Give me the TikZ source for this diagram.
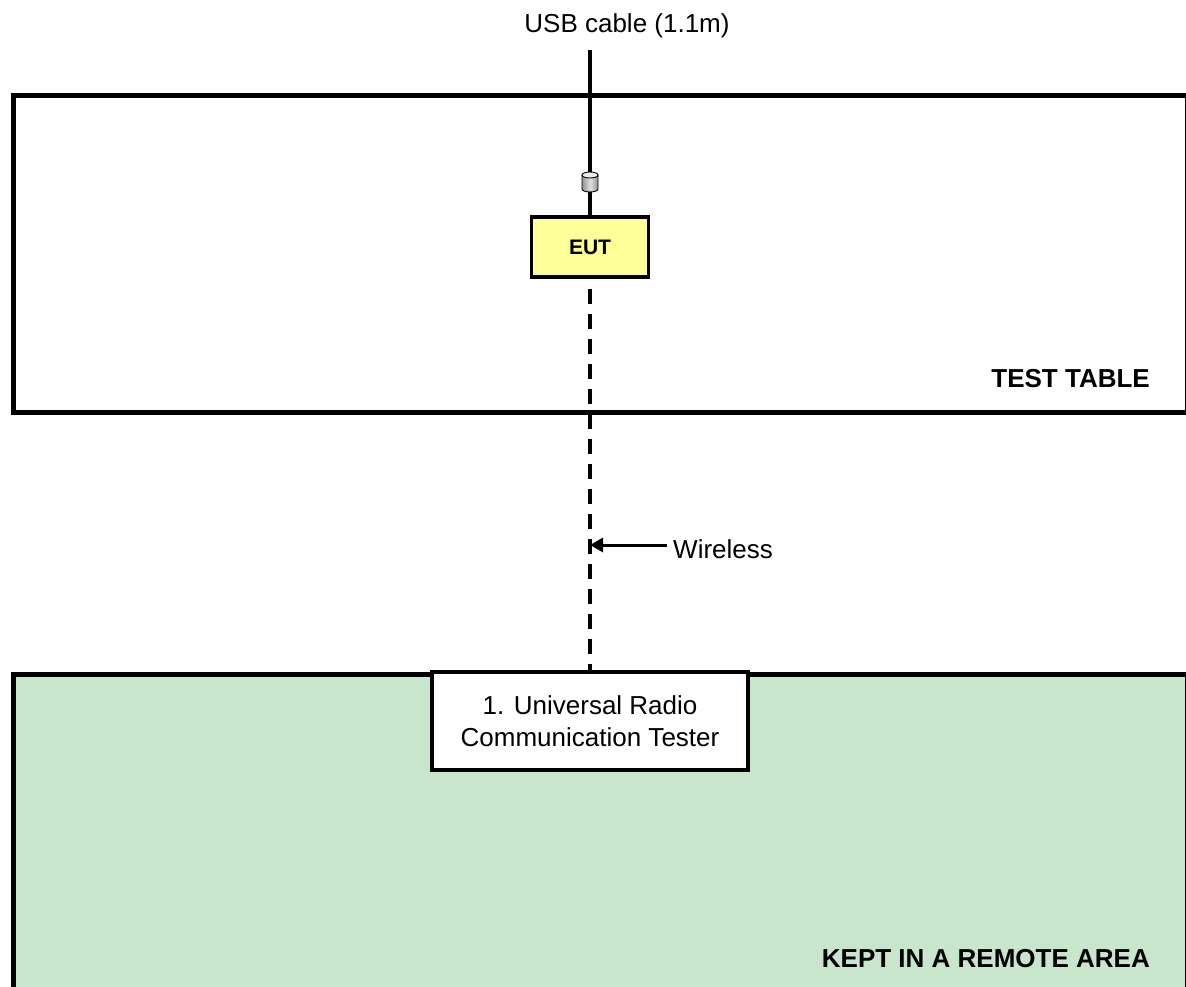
\documentclass[tikz,border=0pt]{standalone}
\usepackage{fontspec}
\setmainfont{Liberation Sans}
\usetikzlibrary{arrows.meta}
\definecolor{remotegreen}{RGB}{200,230,204}
\definecolor{eutyellow}{RGB}{255,255,153}
\tikzset{
  areabox/.style={draw=black, line width=5pt, anchor=north west, inner sep=0pt, minimum width=1174pt},
  devbox/.style={draw=black, line width=3.5pt, inner sep=0pt},
  regtext/.style={font=\fontsize{26}{32}\selectfont, inner sep=0pt},
  boldtext/.style={font=\fontsize{26}{32}\selectfont\bfseries, inner sep=0pt},
  cable/.style={line width=3.5pt},
  wirelessline/.style={line width=3.5pt, dash pattern=on 15pt off 10pt, dash phase=-10pt},
  arrowline/.style={line width=3pt, -{Triangle[length=13pt,width=14pt]}},
  plugbody/.style={draw=black, line width=0.9pt, left color=gray!85, right color=gray!85, middle color=gray!25},
  plugtop/.style={draw=black, line width=0.9pt, fill=gray!15},
}
\begin{document}
\begin{tikzpicture}[x=1pt,y=-1pt]
\useasboundingbox (0,0) rectangle (1186,987);
% areas
\node[areabox, minimum height=317pt] (table) at (11,93) {};
\node[areabox, minimum height=400pt, fill=remotegreen] (remote) at (11,672) {};
\node[boldtext, anchor=base east] (tablelbl) at (1150,387) {TEST TABLE};
\node[boldtext, anchor=base east] (remotelbl) at (1150,967) {KEPT IN A REMOTE AREA};
% devices
\node[devbox, fill=eutyellow, minimum width=117pt, minimum height=60pt,
      font=\fontsize{21}{25}\selectfont\bfseries] (eut) at (590,247) {EUT};
\node[devbox, fill=white, minimum width=316pt, minimum height=98pt, align=center,
      font=\fontsize{26}{32}\selectfont] (tester) at (590,721) {1. Universal Radio\\Communication Tester};
% usb cable with plug
\node[regtext, anchor=base] (usblbl) at (627,33) {USB cable (1.1m)};
\coordinate (cabletop) at (590,50);
\node[inner sep=0pt, minimum width=16pt, minimum height=20pt] (plug) at (590,182) {};
\draw[cable] (cabletop) -- (plug.north);
\draw[cable] (plug.south) -- (eut.north);
\path[plugbody] (582,175) -- (582,189) arc[start angle=180, end angle=0, x radius=8, y radius=3] -- (598,175) -- cycle;
\path[plugtop] (590,175) ellipse[x radius=8, y radius=3];
% wireless
\draw[wirelessline] (eut.south) -- (tester.north);
\coordinate (wtip) at (590,545);
\node[regtext, anchor=west] (wl) at (673,549) {Wireless};
\draw[arrowline] (wl.west |- wtip) ++(-6,0) -- (wtip);
\end{tikzpicture}
\end{document}
